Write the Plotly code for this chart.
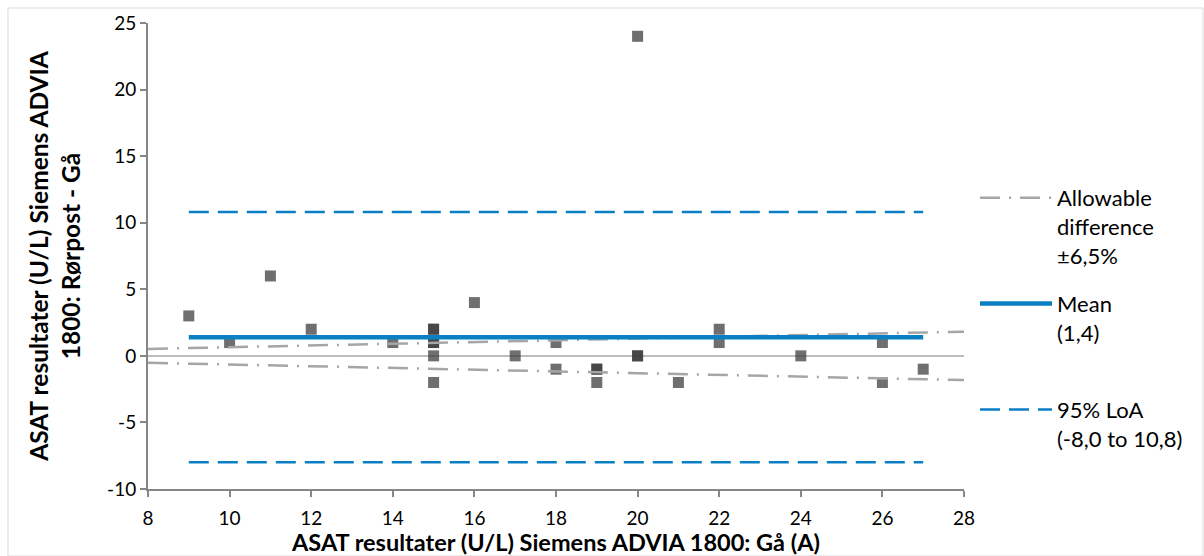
import plotly.graph_objects as go

# ---- data ----
x_vals = [9, 10, 11, 12, 14, 15, 15, 15, 15, 15, 15, 16, 17, 18, 18, 19, 19, 19,
          20, 20, 20, 21, 22, 22, 24, 26, 26, 27]
diff_vals = [3, 1, 6, 2, 1, 2, 2, 1, 1, 0, -2, 4, 0, 1, -1, -1, -1, -2,
             24, 0, 0, -2, 2, 1, 0, 1, -2, -1]
mean_diff = 1.4
loa_lower = -8.0
loa_upper = 10.8
allowable_pct = 6.5
x_axis_range = [8, 28]
y_axis_range = [-10, 25]
stat_span = [9, 27]
y_tick_vals = [-10, -5, 0, 5, 10, 15, 20, 25]
y_tick_labels = ["-10", "-5", "0", "5", "10", "15", "20", "25"]

ax_x = "ASAT resultater (U/L) Siemens ADVIA 1800: Gå (A)"
ax_y = "ASAT resultater (U/L) Siemens ADVIA<br>1800: Rørpost - Gå"
leg_allow = "Allowable<br>difference<br>±6,5%"
leg_mean = "Mean<br>(1,4)<br> "
leg_loa = "95% LoA<br>(-8,0 to 10,8)"

BLUE = "#0a7fc4"
GRAY_DD = "#a6a6a6"
AXIS = "#868686"
FONT = "Lato"

fig = go.Figure()

fig.add_trace(go.Scatter(
    x=x_vals, y=diff_vals, mode="markers", showlegend=False,
    marker=dict(symbol="square", size=11, color="rgb(56,56,56)", opacity=0.72,
                line=dict(width=0)),
))

ax0, ax1 = x_axis_range
fig.add_trace(go.Scatter(
    x=[ax0, ax1, None, ax0, ax1],
    y=[ax0 * allowable_pct / 100, ax1 * allowable_pct / 100, None,
       -ax0 * allowable_pct / 100, -ax1 * allowable_pct / 100],
    mode="lines", name=leg_allow, legendgroup="a",
    line=dict(color=GRAY_DD, width=2.5, dash="20px,9px,2px,9px"),
))
fig.add_trace(go.Scatter(
    x=stat_span, y=[mean_diff, mean_diff], mode="lines", name=leg_mean,
    legendgroup="b", line=dict(color=BLUE, width=4.5),
))
fig.add_trace(go.Scatter(
    x=[stat_span[0], stat_span[1], None, stat_span[0], stat_span[1]],
    y=[loa_upper, loa_upper, None, loa_lower, loa_lower],
    mode="lines", name=leg_loa, legendgroup="c",
    line=dict(color=BLUE, width=2.5, dash="20px,9px"),
))

L, R, T, B = 148, 240, 23, 67
W, H = 1204, 556
pw, ph = W - L - R, H - T - B

fig.update_layout(
    width=W, height=H,
    margin=dict(l=L, r=R, t=T, b=B),
    paper_bgcolor="white", plot_bgcolor="white",
    font=dict(family=FONT, size=19, color="#000000"),
    xaxis=dict(
        range=x_axis_range, dtick=2, tick0=8, automargin=False,
        showline=True, linecolor=AXIS, linewidth=2,
        ticks="outside", ticklen=6, tickwidth=2, tickcolor=AXIS,
        ticklabelstandoff=5,
        showgrid=False, zeroline=False,
        tickfont=dict(size=19),
        title=dict(text="<b>" + ax_x + "</b>", font=dict(size=23.5), standoff=10),
    ),
    yaxis=dict(
        range=y_axis_range, tickmode="array", tickvals=y_tick_vals,
        ticktext=y_tick_labels, automargin=False,
        showline=True, linecolor=AXIS, linewidth=2,
        ticks="outside", ticklen=6, tickwidth=2, tickcolor=AXIS,
        showgrid=False, zeroline=True, zerolinecolor="#bdbdbd", zerolinewidth=2,
        tickfont=dict(size=19),
        title=dict(text="<b>" + ax_y + "</b>", font=dict(size=24.5), standoff=20),
    ),
    legend=dict(
        x=(975 - L) / pw, xanchor="left",
        y=(H - B - 177) / ph, yanchor="top",
        valign="top", itemwidth=72, tracegroupgap=17,
        font=dict(size=22, family=FONT, color="#000000"),
        bgcolor="rgba(0,0,0,0)",
    ),
    shapes=[dict(
        type="rect", xref="paper", yref="paper", layer="below",
        x0=(8 - L) / pw, x1=(1203 - L) / pw,
        y0=(H - B - 556) / ph, y1=(H - B - 8) / ph,
        line=dict(color="#d9d9d9", width=1), fillcolor="rgba(0,0,0,0)",
    )],
)

fig.write_html("out.html")
